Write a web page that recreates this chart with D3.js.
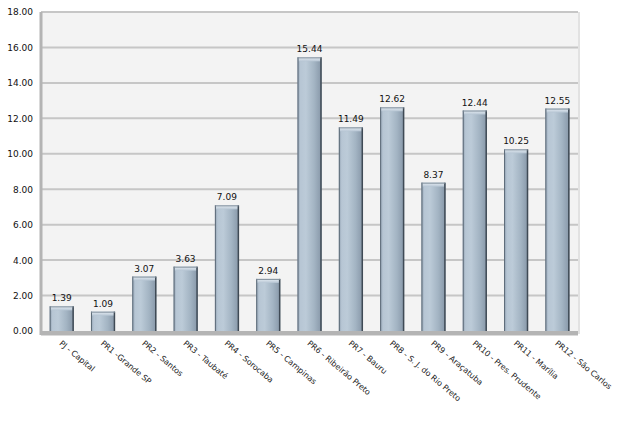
<!DOCTYPE html>
<html><head><meta charset="utf-8">
<script src="https://cdn.jsdelivr.net/npm/d3@7"></script>
<style>body{margin:0;background:#fff;}svg{display:block;}</style>
</head><body>
<svg id="c" width="618" height="422"></svg>
<script>
const categories = ["PJ - Capital","PR1 -Grande SP","PR2 - Santos","PR3 - Taubaté","PR4 - Sorocaba","PR5 - Campinas","PR6 - Ribeirão Preto","PR7 - Bauru","PR8 - S. J. do Rio Preto","PR9 - Araçatuba","PR10 - Pres. Prudente","PR11 - Marília","PR12 - São Carlos"];
const values = [1.39,1.09,3.07,3.63,7.09,2.94,15.44,11.49,12.62,8.37,12.44,10.25,12.55];
const yTicks = [0,2,4,6,8,10,12,14,16,18];

const svg = d3.select("#c");
const L = 41, R = 578, T = 12, B = 331;
const x = d3.scaleBand().domain(categories).range([L, R]).paddingInner(0.42).paddingOuter(0.21);
const y = d3.scaleLinear().domain([0, 18]).range([B, T]);

const defs = svg.append("defs");
const g1 = defs.append("linearGradient").attr("id","barg").attr("x1","0").attr("x2","1").attr("y1","0").attr("y2","0");
[[0,"#91a1b2"],[0.12,"#b7c6d4"],[0.35,"#bccbd8"],[0.7,"#a3b4c3"],[1,"#8797a8"]].forEach(s=>g1.append("stop").attr("offset",s[0]).attr("stop-color",s[1]));
const g2 = defs.append("linearGradient").attr("id","capg").attr("x1","0").attr("x2","0").attr("y1","0").attr("y2","1");
[[0,"#e6edf4"],[1,"#b6c5d3"]].forEach(s=>g2.append("stop").attr("offset",s[0]).attr("stop-color",s[1]));

// plot background
svg.append("rect").attr("x",L).attr("y",T).attr("width",R-L).attr("height",B-T).attr("fill","#f3f3f3");
svg.append("line").attr("x1",L).attr("x2",R).attr("y1",T).attr("y2",T).attr("stroke","#d6d6d6").attr("stroke-width",1);
svg.append("line").attr("x1",R+1).attr("x2",R+1).attr("y1",T).attr("y2",B+3).attr("stroke","#e2e2e2").attr("stroke-width",2);

// gridlines
svg.append("g").selectAll("line").data(yTicks.filter(d=>d>0)).join("line")
  .attr("x1",L).attr("x2",R).attr("y1",d=>y(d)).attr("y2",d=>y(d))
  .attr("stroke","#c6c6c6").attr("stroke-width",2);

// y axis
const yAxis = d3.axisLeft(y).tickValues(yTicks).tickFormat(d3.format(".2f")).tickSize(0).tickPadding(8);
const ya = svg.append("g").attr("transform",`translate(${L},0)`).call(yAxis);
ya.select(".domain").remove();
ya.selectAll("text").attr("font-family","DejaVu Sans, Verdana, sans-serif").attr("font-size","9px").attr("fill","#111");

// floor
svg.append("rect").attr("x",L).attr("y",B).attr("width",R-L).attr("height",4).attr("fill","#b4b4b4");
svg.append("line").attr("x1",L).attr("x2",R).attr("y1",B+4.5).attr("y2",B+4.5).attr("stroke","#dadada");
svg.append("line").attr("x1",L).attr("x2",L).attr("y1",T).attr("y2",B+4).attr("stroke","#b4b4b4").attr("stroke-width",3);

// bars
const bars = svg.append("g").selectAll("g").data(categories.map((c,i)=>({c,v:values[i]}))).join("g");
bars.append("rect").attr("x",d=>x(d.c)).attr("y",d=>y(d.v)).attr("width",x.bandwidth()).attr("height",d=>B-y(d.v)).attr("fill","url(#barg)");
bars.append("rect").attr("x",d=>x(d.c)+1).attr("y",d=>y(d.v)).attr("width",x.bandwidth()-2).attr("height",4).attr("fill","url(#capg)");
bars.append("line").attr("x1",d=>x(d.c)+0.5).attr("x2",d=>x(d.c)+0.5).attr("y1",d=>y(d.v)).attr("y2",B).attr("stroke","#5d6b78");
bars.append("line").attr("x1",d=>x(d.c)+x.bandwidth()-0.5).attr("x2",d=>x(d.c)+x.bandwidth()-0.5).attr("y1",d=>y(d.v)).attr("y2",B).attr("stroke","#3f4a55").attr("stroke-width",1.5);
bars.append("line").attr("x1",d=>x(d.c)).attr("x2",d=>x(d.c)+x.bandwidth()).attr("y1",d=>y(d.v)+0.5).attr("y2",d=>y(d.v)+0.5).attr("stroke","#7f8d9a");

// value labels
bars.append("text").attr("x",d=>x(d.c)+x.bandwidth()/2).attr("y",d=>y(d.v)-5)
  .attr("text-anchor","middle").attr("font-family","DejaVu Sans, Verdana, sans-serif").attr("font-size","9px").attr("fill","#111")
  .text(d=>d3.format(".2f")(d.v));

// x labels
svg.append("g").selectAll("text").data(categories).join("text")
  .attr("transform",d=>`translate(${x(d)+x.bandwidth()/2-1},${B+11}) rotate(40)`)
  .attr("dy","0.35em")
  .attr("font-family","DejaVu Sans, Verdana, sans-serif").attr("font-size","8px").attr("fill","#222")
  .text(d=>d);
</script>
</body></html>
